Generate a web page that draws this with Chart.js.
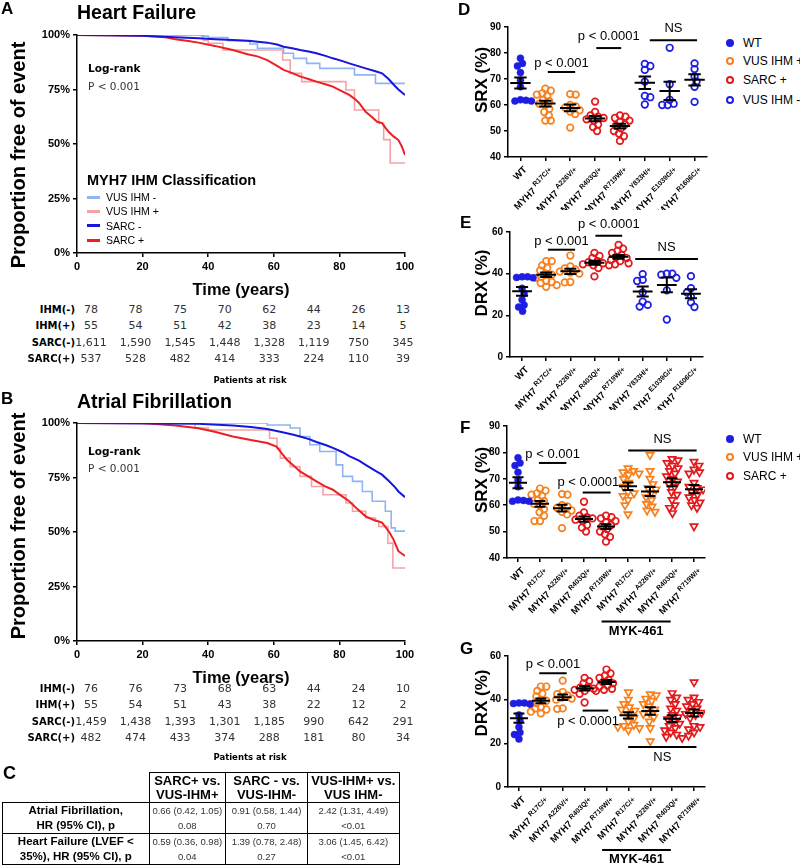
<!DOCTYPE html>
<html>
<head>
<meta charset="utf-8">
<title>MYH7 IHM classification</title>
<script src="https://cdn.jsdelivr.net/npm/chart.js@4.4.1/dist/chart.umd.min.js"></script>
<style>
  body { margin: 0; background: #fff; }
  #page { position: relative; width: 800px; height: 865px; overflow: hidden; font-family: "Liberation Sans", Arial, sans-serif; color: #000; }
  .t { position: absolute; white-space: nowrap; line-height: 1; }
  .cbox { position: absolute; }
  table.hr { position: absolute; left: 2px; top: 772px; border-collapse: collapse; table-layout: fixed; }
  table.hr td { border: 1.5px solid #000; text-align: center; vertical-align: middle; padding: 0; }
</style>
</head>
<body>
<div id="page"></div>
<script>
// ---- Kaplan-Meier curves: [time (years), % free of event] ----
const hfVusNeg = [[0,100],[38,99.5],[40,98.8],[46,97.4],[52.7,95.9],[55,93.9],[63,91.6],[66,89.3],[70,87],[74,84.7],[84.6,81.7],[91,77.8],[100,77.8]];
const hfVusPos = [[0,100],[38.5,97.5],[40,96.2],[44.5,93.1],[62.7,88.5],[65,82.4],[68.5,78.6],[82,74.8],[84.6,65.6],[92,59.5],[93.5,52],[95.5,41.3],[100,41.3]];
const hfSarcNeg = [[0,100],[10,99.9],[20,99.6],[30,99],[37,98.5],[42,98.1],[47.5,97.7],[53,97.2],[58,96.5],[61,95.6],[63,94.6],[66,93.8],[68,93.1],[71,92.3],[73,91.6],[76,90.3],[78,89.3],[81,88],[83,87],[86,85.6],[88,84.7],[91,83.4],[93,82.4],[95,79.8],[97,76.5],[98,75],[100,72.5]];
const hfSarcPos = [[0,100],[20,99.7],[27,99],[30,98],[34,97.2],[37,96.5],[42,95],[47.5,93.1],[52,91.2],[55,90.2],[58,88.5],[61,85.8],[63,84],[66,82.3],[68,81],[71,79.6],[73,78.6],[76,77.3],[78,76.3],[81,74],[83,72.5],[85,70.3],[86,68.8],[88,64.8],[90,62.3],[91.5,60.2],[93,59.6],[94,57.5],[95,55.6],[96.5,53.5],[98,51.8],[99,49],[100,45]];

const afVusNeg = [[0,100],[58,99.1],[65,97.7],[68,93.8],[71,90],[74,86.9],[79,80.8],[81,75.5],[84,73.2],[87,68.6],[90,64.1],[94,59.5],[95.8,51.9],[97,50.4],[100,50.4]];
const afVusPos = [[0,100],[36,97.7],[40,96.8],[58.7,93],[61,88.4],[62,83.9],[65,80],[68,75.5],[71.5,70.9],[75,67.1],[82,63.3],[84,59.5],[88,56.4],[91,54.9],[92,52.5],[94.8,44.9],[96.3,33.5],[100,33.5]];
const afSarcNeg = [[0,100],[27,99.8],[37,99.6],[47.5,98.8],[53,98.2],[58,97.2],[63,95.6],[66,94.6],[68,93.8],[71,92.5],[73,91.3],[76,89.8],[78,88.6],[81,86.6],[83,84.8],[86,82.7],[88,80.8],[91,78],[93,76.3],[95,73.5],[97,70.5],[98,68.6],[100,66]];
const afSarcPos = [[0,100],[20,99.9],[24,99.5],[30,98.8],[37,97.6],[42,96],[47.5,93.8],[53,92.2],[58,90.8],[60.8,89.2],[62.5,86],[64,83.1],[66,80.5],[68,77.8],[70.5,75.5],[73,73.2],[75.5,71],[78,69.4],[80.5,66.7],[83,64.1],[85.5,60.5],[88,57.2],[90.5,55.5],[93,54.3],[95.3,49.8],[96.5,46.5],[98,41.2],[100,39]];

// ---- patients at risk ----
const riskNames = ['IHM(-)', 'IHM(+)', 'SARC(-)', 'SARC(+)'];
const hfRiskIhmNeg = [78, 78, 75, 70, 62, 44, 26, 13];
const hfRiskIhmPos = [55, 54, 51, 42, 38, 23, 14, 5];
const hfRiskSarcNeg = [1611, 1590, 1545, 1448, 1328, 1119, 750, 345];
const hfRiskSarcPos = [537, 528, 482, 414, 333, 224, 110, 39];
const afRiskIhmNeg = [76, 76, 73, 68, 63, 44, 24, 10];
const afRiskIhmPos = [55, 54, 51, 43, 38, 22, 12, 2];
const afRiskSarcNeg = [1459, 1438, 1393, 1301, 1185, 990, 642, 291];
const afRiskSarcPos = [482, 474, 433, 374, 288, 181, 80, 34];

// ---- hazard ratio table ----
const hrCols = [['SARC+ vs.', 'VUS-IHM+'], ['SARC - vs.', 'VUS-IHM-'], ['VUS-IHM+ vs.', 'VUS IHM-']];
const hrRowNames = [['Atrial Fibrillation,', 'HR (95% CI), p'], ['Heart Failure (LVEF <', '35%), HR (95% CI), p']];
const hrAf = ['0.66 (0.42, 1.05)', '0.91 (0.58, 1.44)', '2.42 (1.31, 4.49)'];
const pAf = ['0.08', '0.70', '<0.01'];
const hrHf = ['0.59 (0.36, 0.98)', '1.39 (0.78, 2.48)', '3.06 (1.45, 6.42)'];
const pHf = ['0.04', '0.27', '<0.01'];

// ---- myosin SRX / DRX (%) ----
const catsDE = ['WT', 'R17C/+', 'A226V/+', 'R403Q/+', 'R719W/+', 'Y833H/+', 'E1039G/+', 'R1606C/+'];
const catsFG = ['WT', 'R17C/+', 'A226V/+', 'R403Q/+', 'R719W/+', 'R17C/+', 'A226V/+', 'R403Q/+', 'R719W/+'];

const srxWT = [78, 76, 75, 72.5, 69.5, 67, 62, 61.8, 61.5, 61.5];
const srxR17C = [66.3, 65.5, 64.5, 64, 63.5, 62, 61.5, 60.5, 60, 58.5, 57.3, 56, 54, 54];
const srxA226V = [64.2, 64, 60, 59.5, 59, 58, 57.5, 56.5, 51.3];
const srxR403Q = [61.3, 57.3, 56, 55.5, 55, 54.5, 54, 52.5, 51.5, 50];
const srxR719W = [56, 55.5, 55, 54, 53.5, 52.5, 52, 51, 50, 49, 48, 46.2];
const srxY833H = [75.8, 75, 73.5, 69, 63.5, 63, 60.2];
const srxE1039G = [82, 68, 62, 60.5, 60, 60];
const srxR1606C = [76, 73.8, 71, 69, 67, 61.2];

const drxWT = [22, 24, 25, 27.5, 30.5, 33, 38, 38.2, 38.5, 38.5];
const drxR17C = [33.7, 34.5, 35.5, 36, 36.5, 38, 38.5, 39.5, 40, 41.5, 42.7, 44, 46, 46];
const drxA226V = [35.8, 36, 40, 40.5, 41, 42, 42.5, 43.5, 48.7];
const drxR403Q = [38.7, 42.7, 44, 44.5, 45, 45.5, 46, 47.5, 48.5, 50];
const drxR719W = [44, 44.5, 45, 46, 46.5, 47.5, 48, 49, 50, 51, 52, 53.8];
const drxY833H = [24.2, 25, 26.5, 31, 36.5, 37, 39.8];
const drxE1039G = [18, 32, 38, 39.5, 40, 40];
const drxR1606C = [24, 26.2, 29, 31, 33, 38.8];

const srxMykR17C = [74, 73, 72.5, 72, 71.5, 70, 68.5, 67, 65, 64.5, 63.5, 62, 60, 56.6];
const srxMykA226V = [79, 73, 70, 68, 66.5, 66, 64.5, 63, 62, 60.5, 59.5, 58, 57.5];
const srxMykR403Q = [77.5, 77, 76, 75, 74, 73, 72, 71, 70, 69, 68, 67, 65, 64, 62, 60, 59, 57];
const srxMykR719W = [76.5, 75, 73.5, 72.5, 72, 68.5, 67, 66.5, 66, 65, 64, 63, 62, 61, 60, 59, 52];

const drxMykR17C = [26, 27, 27.5, 28, 28.5, 30, 31.5, 33, 35, 35.5, 36.5, 38, 40, 43.4];
const drxMykA226V = [21, 27, 30, 32, 33.5, 34, 35.5, 37, 38, 39.5, 40.5, 42, 42.5];
const drxMykR403Q = [22.5, 23, 24, 25, 26, 27, 28, 29, 30, 31, 32, 33, 35, 36, 38, 40, 41, 43];
const drxMykR719W = [23.5, 25, 26.5, 27.5, 28, 31.5, 33, 33.5, 34, 35, 36, 37, 38, 39, 40, 41, 48];

// significance bars: x in category index, y in axis units
const sigD = [
  {from: 1.1, to: 2.2, y: 72.7, ty: 76, text: 'p < 0.001'},
  {from: 3.05, to: 4.05, y: 81.9, ty: 86.2, text: 'p < 0.0001'},
  {from: 5.2, to: 7.1, y: 84.9, ty: 89.4, text: 'NS'}
];
const sigE = [
  {from: 1.07, to: 2.2, y: 51.5, ty: 55.5, text: 'p < 0.001'},
  {from: 3.04, to: 4.15, y: 58.2, ty: 63.5, text: 'p < 0.0001'},
  {from: 4.69, to: 7.29, y: 47.1, ty: 52.6, text: 'NS'}
];
const sigF = [
  {from: 0.95, to: 2.2, y: 76, ty: 79.2, text: 'p < 0.001'},
  {from: 2.94, to: 4.21, y: 64.8, ty: 68.6, tx: 3.2, text: 'p < 0.0001'},
  {from: 5.01, to: 8.12, y: 80.7, ty: 85, text: 'NS'}
];
const sigG = [
  {from: 0.93, to: 2.18, y: 52.1, ty: 56.2, text: 'p < 0.001'},
  {from: 2.91, to: 4.08, y: 35, ty: 30, tx: 3.16, text: 'p < 0.0001'},
  {from: 4.99, to: 8.11, y: 18.3, ty: 13.7, text: 'NS'}
];

// ---- styles ----
const ff = '"Liberation Sans", Arial, sans-serif';
const cVusNeg = '#8fb4f4';
const cVusPos = '#f5a2a5';
const cSarcNeg = '#1616dc';
const cSarcPos = '#ec1f25';
const cBlue = '#1e1ee2';
const cOrange = '#f7811f';
const cRed = '#e3191c';

Chart.defaults.font.family = ff;
Chart.defaults.color = '#000';

const page = document.getElementById('page');

function put(text, x, y, style, align) {
  const el = document.createElement('div');
  el.className = 't';
  el.textContent = text;
  el.style.cssText = style;
  el.style.left = x + 'px';
  el.style.top = y + 'px';
  const tx = align === 'center' ? '-50%' : align === 'right' ? '-100%' : '0';
  el.style.transform = 'translate(' + tx + ', -50%)';
  page.appendChild(el);
  return el;
}

function vtitle(text, x, y, style) {
  const el = put(text, x, y, style, 'center');
  el.style.transform = 'translate(-50%, -50%) rotate(-90deg)';
}

function makeCanvas(g) {
  const box = document.createElement('div');
  box.className = 'cbox';
  box.style.left = g.left + 'px';
  box.style.top = g.top + 'px';
  const c = document.createElement('canvas');
  c.width = g.width;
  c.height = g.height;
  box.appendChild(c);
  page.appendChild(box);
  return c;
}

const axisGrid = {display: true, drawOnChartArea: false, drawTicks: true, tickLength: 4, color: '#000', lineWidth: 1.5};
const axisBorder = {display: true, color: '#000', width: 1.5};

function kmChart(g, series) {
  return new Chart(makeCanvas(g), {
    type: 'line',
    data: {
      datasets: series.map(s => ({
        data: s.pts.map(p => ({x: p[0], y: p[1]})),
        borderColor: s.color,
        borderWidth: s.w,
        stepped: s.step ? 'before' : false,
        pointRadius: 0,
        tension: 0,
        fill: false,
        order: s.order
      }))
    },
    options: {
      responsive: false,
      animation: false,
      events: [],
      layout: {padding: {top: g.plotTop - g.top, right: g.left + g.width - g.plotRight, left: 0, bottom: 0}},
      plugins: {legend: {display: false}, tooltip: {enabled: false}},
      scales: {
        x: {
          type: 'linear', min: 0, max: 100,
          ticks: {stepSize: 20, color: '#000', font: {size: 11, weight: 'bold'}, padding: 3, maxRotation: 0},
          grid: axisGrid, border: axisBorder,
          title: {display: true, text: 'Time (years)', color: '#000', font: {size: 16.5, weight: 'bold'}, padding: {top: 1, bottom: 0}},
          afterFit: s => { s.height = g.top + g.height - g.plotBottom; }
        },
        y: {
          type: 'linear', min: 0, max: 100,
          ticks: {stepSize: 25, color: '#000', font: {size: 11, weight: 'bold'}, padding: 3, callback: v => v + '%'},
          grid: axisGrid, border: axisBorder,
          afterFit: s => { s.width = g.plotLeft - g.left; }
        }
      }
    }
  });
}

// simple beeswarm: horizontal pixel offsets so that markers do not overlap too much
function swarm(vals, ppu, d) {
  const order = vals.map((v, i) => i).sort((a, b) => vals[b] - vals[a]);
  const placed = [];
  const offs = [];
  order.forEach((i, k) => {
    const y = vals[i] * ppu;
    let dx = 0;
    for (let s = 0; s < 12; s += 0.5) {
      const cands = s === 0 ? [0] : (k % 2 ? [s, -s] : [-s, s]);
      const hit = cands.find(c => placed.every(p => (p.x - c) ** 2 + (p.y - y) ** 2 >= d * d));
      if (hit !== undefined) { dx = hit; break; }
    }
    placed.push({x: dx, y: y});
    offs[i] = dx;
  });
  return offs;
}

function decor(cfg) {
  return {
    id: 'decor',
    afterDatasetsDraw(chart) {
      const {ctx, chartArea} = chart;
      const x = chart.scales.x, y = chart.scales.y;
      const cw = x.getPixelForValue(1) - x.getPixelForValue(0);
      ctx.save();
      ctx.strokeStyle = '#000';
      ctx.lineWidth = 2;
      // mean +/- SEM
      cfg.groups.forEach((grp, i) => {
        const v = grp.vals, n = v.length;
        const m = v.reduce((a, b) => a + b, 0) / n;
        const sd = Math.sqrt(v.reduce((a, b) => a + (b - m) ** 2, 0) / (n - 1));
        const se = sd / Math.sqrt(n);
        const cx = x.getPixelForValue(i);
        const ym = y.getPixelForValue(m), yt = y.getPixelForValue(m + se), yb = y.getPixelForValue(m - se);
        ctx.beginPath();
        ctx.moveTo(cx - cw * 0.41, ym); ctx.lineTo(cx + cw * 0.41, ym);
        ctx.moveTo(cx, yt); ctx.lineTo(cx, yb);
        ctx.moveTo(cx - cw * 0.25, yt); ctx.lineTo(cx + cw * 0.25, yt);
        ctx.moveTo(cx - cw * 0.25, yb); ctx.lineTo(cx + cw * 0.25, yb);
        ctx.stroke();
      });
      // significance bars
      ctx.fillStyle = '#000';
      ctx.font = '13px ' + ff;
      ctx.textAlign = 'center';
      ctx.textBaseline = 'middle';
      cfg.sig.forEach(s => {
        const yp = y.getPixelForValue(s.y);
        ctx.beginPath();
        ctx.moveTo(x.getPixelForValue(s.from), yp);
        ctx.lineTo(x.getPixelForValue(s.to), yp);
        ctx.stroke();
        const tx = s.tx !== undefined ? s.tx : (s.from + s.to) / 2;
        ctx.fillText(s.text, x.getPixelForValue(tx), y.getPixelForValue(s.ty));
      });
      // rotated category labels
      ctx.textAlign = 'right';
      cfg.cats.forEach((c, i) => {
        ctx.save();
        ctx.translate(x.getPixelForValue(i) + 8, chartArea.bottom + 14);
        ctx.rotate(-Math.PI / 4);
        if (c === 'WT') {
          ctx.font = 'bold 9.5px ' + ff;
          ctx.fillText('WT', 0, -4);
        } else {
          ctx.font = 'bold 7px ' + ff;
          const w2 = ctx.measureText(c).width;
          ctx.fillText(c, 0, -3.5);
          ctx.font = 'bold 9.5px ' + ff;
          ctx.fillText('MYH7', -w2 - 2.5, 0);
        }
        ctx.restore();
      });
      // MYK-461 bracket
      if (cfg.myk) {
        const yl = chartArea.bottom + cfg.myk.dy;
        const x0 = x.getPixelForValue(cfg.myk.from), x1 = x.getPixelForValue(cfg.myk.to);
        ctx.beginPath();
        ctx.moveTo(x0, yl); ctx.lineTo(x1, yl);
        ctx.stroke();
        ctx.font = 'bold 13px ' + ff;
        ctx.textAlign = 'center';
        ctx.fillText('MYK-461', (x0 + x1) / 2, yl + 9.5);
      }
      ctx.restore();
    }
  };
}

function dotChart(g, cfg) {
  const n = cfg.cats.length;
  const catPx = (g.plotRight - g.plotLeft) / n;
  const ppu = (g.plotBottom - g.plotTop) / (cfg.ymax - cfg.ymin);
  const datasets = cfg.groups.map((grp, i) => {
    const tri = grp.kind === 'tri', dot = grp.kind === 'dot';
    const offs = swarm(grp.vals, ppu, tri ? 6 : 5.5);
    return {
      data: grp.vals.map((v, j) => ({x: i + offs[j] / catPx, y: v})),
      pointStyle: tri ? 'triangle' : 'circle',
      pointRotation: tri ? 180 : 0,
      pointRadius: dot ? 3.5 : tri ? 4.2 : 3.3,
      pointBackgroundColor: dot ? grp.color : 'rgba(255,255,255,0)',
      pointBorderColor: grp.color,
      pointBorderWidth: dot ? 0.5 : 1.7,
      showLine: false
    };
  });
  return new Chart(makeCanvas(g), {
    type: 'scatter',
    data: {datasets: datasets},
    options: {
      responsive: false,
      animation: false,
      events: [],
      layout: {padding: {top: g.plotTop - g.top, right: g.left + g.width - g.plotRight, left: 0, bottom: 0}},
      plugins: {legend: {display: false}, tooltip: {enabled: false}},
      scales: {
        x: {
          type: 'linear', min: -0.5, max: n - 0.5,
          afterBuildTicks: s => { s.ticks = cfg.cats.map((c, i) => ({value: i})); },
          ticks: {callback: () => ''},
          grid: axisGrid, border: axisBorder,
          afterFit: s => { s.height = g.top + g.height - g.plotBottom; }
        },
        y: {
          type: 'linear', min: cfg.ymin, max: cfg.ymax,
          ticks: {stepSize: cfg.ystep, color: '#000', font: {size: 10, weight: 'bold'}, padding: 3},
          grid: axisGrid, border: axisBorder,
          afterFit: s => { s.width = g.plotLeft - g.left; }
        }
      }
    },
    plugins: [decor(cfg)]
  });
}

// ---- panel A & B ----
const kmSet = (vn, vp, sn, sp) => [
  {pts: vn, color: cVusNeg, w: 1.6, step: true, order: 2},
  {pts: vp, color: cVusPos, w: 1.6, step: true, order: 3},
  {pts: sn, color: cSarcNeg, w: 2, step: false, order: 0},
  {pts: sp, color: cSarcPos, w: 2, step: false, order: 1}
];
kmChart({left: 0, top: 0, width: 420, height: 300, plotLeft: 77, plotTop: 35, plotRight: 405, plotBottom: 253},
  kmSet(hfVusNeg, hfVusPos, hfSarcNeg, hfSarcPos));
kmChart({left: 0, top: 388, width: 420, height: 300, plotLeft: 77, plotTop: 423, plotRight: 405, plotBottom: 641},
  kmSet(afVusNeg, afVusPos, afSarcNeg, afSarcPos));

const letter = 'font: bold 17px ' + ff + ';';
const kmTitle = 'font: bold 19.5px ' + ff + ';';
const kmY = 'font: bold 20px ' + ff + ';';
const dvs = '"DejaVu Sans", sans-serif';

put('A', 1, 9, letter);
put('Heart Failure', 77, 12, kmTitle);
vtitle('Proportion free of event', 18, 155, kmY);
put('Log-rank', 88, 68, 'font: bold 10.5px ' + dvs + ';');
put('P < 0.001', 88, 86, 'font: 10.5px ' + dvs + '; color:#333;');

put('MYH7 IHM Classification', 87, 180, 'font: bold 14.5px ' + ff + ';');
[['VUS IHM -', cVusNeg], ['VUS IHM +', cVusPos], ['SARC -', cSarcNeg], ['SARC +', cSarcPos]].forEach((it, i) => {
  const y = 197 + i * 14.4;
  const ln = document.createElement('div');
  ln.style.cssText = 'position:absolute; left:87px; width:13px; height:3px; background:' + it[1] + '; top:' + (y - 1.5) + 'px;';
  page.appendChild(ln);
  put(it[0], 106, y, 'font: 10.5px ' + ff + ';');
});

put('B', 1, 399, letter);
put('Atrial Fibrillation', 77, 401, kmTitle);
vtitle('Proportion free of event', 18, 526, kmY);
put('Log-rank', 88, 451, 'font: bold 10.5px ' + dvs + ';');
put('P < 0.001', 88, 468, 'font: 10.5px ' + dvs + '; color:#333;');

function riskTable(rows, y0, py) {
  rows.forEach((r, i) => {
    const y = y0 + i * 16.3;
    put(riskNames[i], 75, y, 'font: bold 10px ' + dvs + ';', 'right');
    r.forEach((v, j) => put(v.toLocaleString('en-US'), 91 + j * 44.57, y, 'font: 11px ' + dvs + '; color:#333;', 'center'));
  });
  put('Patients at risk', 250, py, 'font: bold 8.5px ' + dvs + ';', 'center');
}
riskTable([hfRiskIhmNeg, hfRiskIhmPos, hfRiskSarcNeg, hfRiskSarcPos], 309, 380);
riskTable([afRiskIhmNeg, afRiskIhmPos, afRiskSarcNeg, afRiskSarcPos], 688, 757);

// ---- panel C ----
put('C', 3, 773, 'font: bold 18px ' + ff + ';');
(function () {
  const tbl = document.createElement('table');
  tbl.className = 'hr';
  const widths = [146.5, 76.5, 82, 91.5];
  const cg = document.createElement('colgroup');
  widths.forEach(w => { const c = document.createElement('col'); c.style.width = w + 'px'; cg.appendChild(c); });
  tbl.appendChild(cg);
  const head = tbl.insertRow();
  head.style.height = '30px';
  const blank = head.insertCell();
  blank.style.border = 'none';
  hrCols.forEach(h => {
    const c = head.insertCell();
    c.style.cssText = 'font: bold 13px ' + ff + '; line-height: 13.5px;';
    c.innerHTML = h[0] + '<br>' + h[1];
  });
  [[hrRowNames[0], hrAf, pAf, 31], [hrRowNames[1], hrHf, pHf, 29.5]].forEach(r => {
    const row = tbl.insertRow();
    row.style.height = r[3] + 'px';
    const lab = row.insertCell();
    lab.style.cssText = 'font: bold 11.5px ' + ff + '; line-height: 15px;';
    lab.innerHTML = r[0][0] + '<br>' + r[0][1];
    r[1].forEach((v, j) => {
      const c = row.insertCell();
      c.style.cssText = 'font: 9.5px ' + ff + '; line-height: 15px; color:#333;';
      c.innerHTML = v + '<br>' + r[2][j];
    });
  });
  page.appendChild(tbl);
})();

// ---- panels D-G ----
const grpsDE = (a) => [
  {vals: a[0], kind: 'dot', color: cBlue},
  {vals: a[1], kind: 'ring', color: cOrange},
  {vals: a[2], kind: 'ring', color: cOrange},
  {vals: a[3], kind: 'ring', color: cRed},
  {vals: a[4], kind: 'ring', color: cRed},
  {vals: a[5], kind: 'ring', color: cBlue},
  {vals: a[6], kind: 'ring', color: cBlue},
  {vals: a[7], kind: 'ring', color: cBlue}
];
const grpsFG = (a) => [
  {vals: a[0], kind: 'dot', color: cBlue},
  {vals: a[1], kind: 'ring', color: cOrange},
  {vals: a[2], kind: 'ring', color: cOrange},
  {vals: a[3], kind: 'ring', color: cRed},
  {vals: a[4], kind: 'ring', color: cRed},
  {vals: a[5], kind: 'tri', color: cOrange},
  {vals: a[6], kind: 'tri', color: cOrange},
  {vals: a[7], kind: 'tri', color: cRed},
  {vals: a[8], kind: 'tri', color: cRed}
];

dotChart({left: 440, top: 0, width: 280, height: 210, plotLeft: 508, plotTop: 27, plotRight: 707, plotBottom: 157}, {
  cats: catsDE, ymin: 40, ymax: 90, ystep: 10, sig: sigD,
  groups: grpsDE([srxWT, srxR17C, srxA226V, srxR403Q, srxR719W, srxY833H, srxE1039G, srxR1606C])
});
dotChart({left: 440, top: 205, width: 280, height: 205, plotLeft: 510, plotTop: 232, plotRight: 703, plotBottom: 357}, {
  cats: catsDE, ymin: 0, ymax: 60, ystep: 20, sig: sigE,
  groups: grpsDE([drxWT, drxR17C, drxA226V, drxR403Q, drxR719W, drxY833H, drxE1039G, drxR1606C])
});
dotChart({left: 440, top: 399, width: 280, height: 241, plotLeft: 507, plotTop: 426, plotRight: 705, plotBottom: 558}, {
  cats: catsFG, ymin: 40, ymax: 90, ystep: 10, sig: sigF, myk: {from: 3.8, to: 6.94, dy: 63.5},
  groups: grpsFG([srxWT, srxR17C, srxA226V, srxR403Q, srxR719W, srxMykR17C, srxMykA226V, srxMykR403Q, srxMykR719W])
});
dotChart({left: 440, top: 629, width: 280, height: 236, plotLeft: 508, plotTop: 656, plotRight: 705, plotBottom: 787}, {
  cats: catsFG, ymin: 0, ymax: 60, ystep: 20, sig: sigG, myk: {from: 3.8, to: 6.94, dy: 63},
  groups: grpsFG([drxWT, drxR17C, drxA226V, drxR403Q, drxR719W, drxMykR17C, drxMykA226V, drxMykR403Q, drxMykR719W])
});

put('D', 458, 10, letter);
put('E', 460, 223, letter);
put('F', 460, 428, letter);
put('G', 460, 649, letter);
const dotY = 'font: bold 17px ' + ff + ';';
vtitle('SRX (%)', 482, 80, dotY);
vtitle('DRX (%)', 482, 283, dotY);
vtitle('SRX (%)', 482, 480, dotY);
vtitle('DRX (%)', 482, 703, dotY);

function legendItem(kind, color, label, y) {
  const s = document.createElement('div');
  const base = 'position:absolute; left:726px; top:' + (y - 4) + 'px; width:8px; height:8px; border-radius:50%; box-sizing:border-box;';
  s.style.cssText = base + (kind === 'dot' ? 'background:' + color + ';' : 'border:2px solid ' + color + ';');
  page.appendChild(s);
  put(label, 743, y, 'font: 12px ' + ff + ';');
}
legendItem('dot', cBlue, 'WT', 43);
legendItem('ring', cOrange, 'VUS IHM +', 61);
legendItem('ring', cRed, 'SARC +', 80);
legendItem('ring', cBlue, 'VUS IHM -', 100);
legendItem('dot', cBlue, 'WT', 439);
legendItem('ring', cOrange, 'VUS IHM +', 457);
legendItem('ring', cRed, 'SARC +', 476);
</script>
</body>
</html>
